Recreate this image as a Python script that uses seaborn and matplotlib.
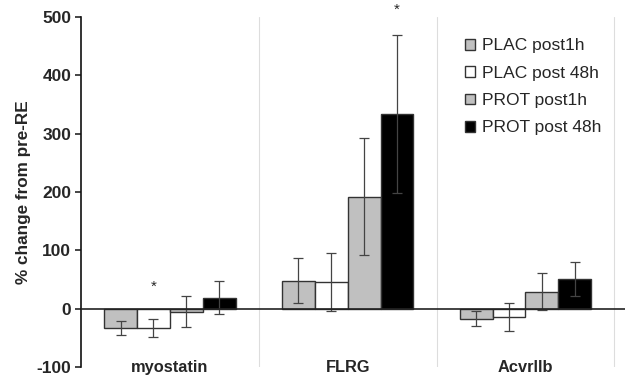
import matplotlib
matplotlib.use("Agg")
import matplotlib.pyplot as plt
import seaborn as sns
import pandas as pd

# values (% change from pre-RE, mean and error)
genes = ["myostatin", "FLRG", "Acvrllb"]
conditions = ["PLAC post1h", "PLAC post 48h", "PROT post1h", "PROT post 48h"]
means = {
    "PLAC post1h":   [-34, 48, -17],
    "PLAC post 48h": [-33, 46, -14],
    "PROT post1h":   [-5, 192, 29],
    "PROT post 48h": [19, 334, 51],
}
errors = {
    "PLAC post1h":   [12, 38, 13],
    "PLAC post 48h": [15, 50, 24],
    "PROT post1h":   [27, 100, 32],
    "PROT post 48h": [29, 136, 29],
}
colors = ["#c0c0c0", "#ffffff", "#c0c0c0", "#000000"]
# significance stars: (gene, condition, y)
stars = [("myostatin", "PLAC post 48h", 37), ("FLRG", "PROT post 48h", 513)]

rows = []
for c in conditions:
    for g, m in zip(genes, means[c]):
        rows.append({"gene": g, "cond": c, "value": m})
df = pd.DataFrame(rows)

sns.set_style("white")
plt.rcParams["font.family"] = ["Liberation Sans", "DejaVu Sans"]
plt.rcParams["axes.unicode_minus"] = False

fig = plt.figure(figsize=(6.25, 3.83), dpi=100)
ax = fig.add_axes([0.1296, 0.0418, 0.8704, 0.9138])

sns.barplot(data=df, x="gene", y="value", hue="cond", order=genes,
            hue_order=conditions, palette=colors, errorbar=None, width=0.74,
            edgecolor="#333333", linewidth=1, ax=ax, zorder=2)

# error bars on top of each bar
for cont, c in zip(ax.containers, conditions):
    xs = [p.get_x() + p.get_width() / 2 for p in cont.patches]
    ax.errorbar(xs, means[c], yerr=errors[c], fmt="none", ecolor="#444444",
                elinewidth=0.9, capsize=3.5, capthick=0.9, zorder=3)

for g, c, y in stars:
    cont = ax.containers[conditions.index(c)]
    p = cont.patches[genes.index(g)]
    ax.text(p.get_x() + p.get_width() / 2, y, "*", ha="center", va="center",
            fontsize=11, clip_on=False)

ax.axhline(0, color="#222222", lw=1.2, zorder=4)
for xv in [0.5, 1.5, 2.5]:
    ax.axvline(xv, color="#dddddd", lw=0.8, zorder=0)

ax.set_xlim(-0.5, 2.56)
ax.set_ylim(-100, 500)
ax.set_yticks(range(-100, 501, 100))
sns.despine(ax=ax, bottom=True)
ax.spines["left"].set_color("#111111")
ax.spines["left"].set_linewidth(1.2)
ax.tick_params(axis="y", left=True, length=4, width=1.2, labelsize=12.5, pad=3)
ax.tick_params(axis="x", bottom=False, length=0, labelsize=11.8, pad=-5)
for lab in ax.get_yticklabels() + ax.get_xticklabels():
    lab.set_fontweight("bold")

ax.set_xlabel("")
ax.set_ylabel("% change from pre-RE", fontsize=12.3, fontweight="bold", labelpad=4)

leg = ax.legend(loc="upper left", bbox_to_anchor=(0.744, 0.8995),
                bbox_transform=fig.transFigure, frameon=False, fontsize=12.5,
                borderpad=0, borderaxespad=0, handlelength=0.55,
                handleheight=0.55, handletextpad=0.45, labelspacing=0.71)

fig.savefig("out.png", dpi=100)
